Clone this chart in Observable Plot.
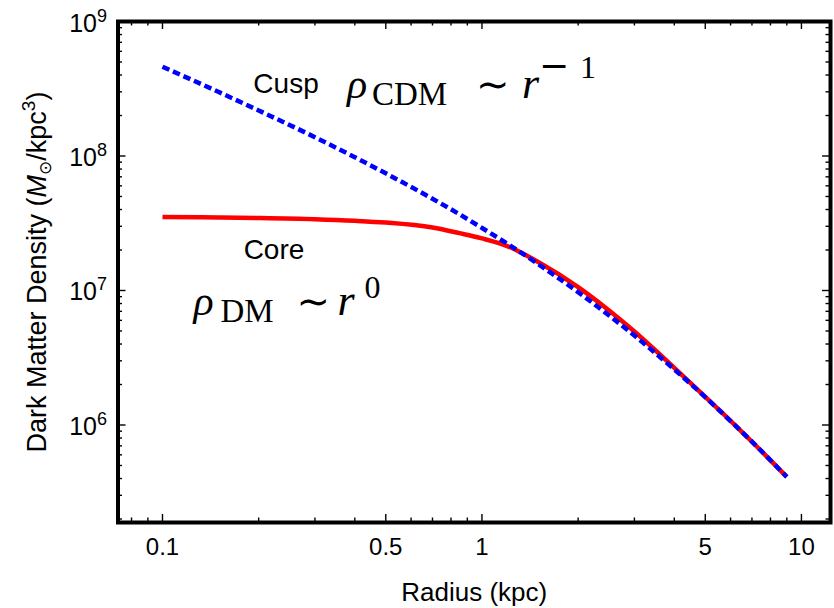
<!DOCTYPE html>
<html>
<head>
<meta charset="utf-8">
<script src="https://cdn.jsdelivr.net/npm/d3@7"></script>
<script src="https://cdn.jsdelivr.net/npm/@observablehq/plot@0.6"></script>
<style>
  html, body { margin: 0; padding: 0; background: #ffffff; }
</style>
</head>
<body>
<div id="chart"></div>
<script>
// ---------------- data ----------------
const radius      = [0.1, 0.15, 0.2, 0.3, 0.4, 0.5, 0.7, 0.85, 1, 1.2, 1.5, 2, 2.5, 3, 4, 5, 6, 7, 9];
const cuspDensity = [4.61e8, 2.99e8, 2.18e8, 1.38e8, 9.79e7, 7.43e7, 4.81e7, 3.69e7, 2.92e7, 2.23e7, 1.57e7, 9.72e6, 6.52e6, 4.62e6, 2.59e6, 1.61e6, 1.07e6, 7.51e5, 4.11e5];
const coreDensity = [3.52e7, 3.49e7, 3.46e7, 3.39e7, 3.30e7, 3.20e7, 2.94e7, 2.67e7, 2.44e7, 2.14e7, 1.63e7, 1.06e7, 7.10e6, 4.95e6, 2.66e6, 1.62e6, 1.075e6, 7.51e5, 4.11e5];

const xMajorTicks = [0.1, 0.5, 1, 5, 10];
const xTickLabels = ["0.1", "0.5", "1", "5", "10"];
const xMinorTicks = [0.08, 0.09, 0.2, 0.3, 0.4, 0.6, 0.7, 0.8, 0.9, 2, 3, 4, 6, 7, 8, 9];
const yMajorTicks = [1e6, 1e7, 1e8, 1e9];
const yTickExponents = ["6", "7", "8", "9"];
const yMinorTicks = [2e5, 3e5, 4e5, 5e5, 6e5, 7e5, 8e5, 9e5,
                     2e6, 3e6, 4e6, 5e6, 6e6, 7e6, 8e6, 9e6,
                     2e7, 3e7, 4e7, 5e7, 6e7, 7e7, 8e7, 9e7,
                     2e8, 3e8, 4e8, 5e8, 6e8, 7e8, 8e8, 9e8];

const xLabel = "Radius (kpc)";
const yLabelParts = ["Dark Matter Density (", "M", "⊙", "/kpc", "3", ")"];

// annotation texts and their anchor points (data units)
const wordLabels   = ["Cusp", "Core"];
const wordRadius   = [0.1925, 0.1795];
const wordDensity  = [2.955e8, 1.706e7];
const cuspFormulaParts = ["ρ", "CDM", "∼", "r", "−", "1"];
const coreFormulaParts = ["ρ", "DM", "∼", "r", "0"];
const formulaKeys    = ["cuspFormula", "coreFormula"];
const formulaRadius  = [0.378, 0.125];
const formulaDensity = [2.70e8, 6.58e6];

// ---------------- tables built from the arrays ----------------
const cuspRows = radius.map((r, i) => ({r, rho: cuspDensity[i]}));
const coreRows = radius.map((r, i) => ({r, rho: coreDensity[i]}));
const wordRows = wordLabels.map((t, i) => ({t, r: wordRadius[i], rho: wordDensity[i]}));
const formulaRows = formulaKeys.map((t, i) => ({t, r: formulaRadius[i], rho: formulaDensity[i]}));

const sans  = "'Liberation Sans', Arial, Helvetica, sans-serif";
const serif = "'Liberation Serif', 'Times New Roman', 'DejaVu Serif', serif";

const W = 834, H = 608, ML = 117.5, MR = 4, MT = 21, MB = 86;
const FW = W - ML - MR, FH = H - MT - MB;
const xDomain = [0.07257, 12.33], yDomain = [1.884e5, 1e9];

// tick lengths in px, turned into multiplicative steps on the log scales
const BIG = 8, SMALL = 4.5;
const xDecPx = FW / Math.log10(xDomain[1] / xDomain[0]);
const yDecPx = FH / Math.log10(yDomain[1] / yDomain[0]);
const fx = px => Math.pow(10, px / xDecPx);
const fy = px => Math.pow(10, px / yDecPx);

const tickOpts = {stroke: "black", strokeWidth: 1.4, strokeLinecap: "butt"};
const xTickRules = (ticks, len) => [
  Plot.ruleX(ticks, {...tickOpts, x: d => d, y1: yDomain[0], y2: yDomain[0] * fy(len)}),
  Plot.ruleX(ticks, {...tickOpts, x: d => d, y1: yDomain[1], y2: yDomain[1] / fy(len)})
];
const yTickRules = (ticks, len) => [
  Plot.ruleY(ticks, {...tickOpts, y: d => d, x1: xDomain[0], x2: xDomain[0] * fx(len)}),
  Plot.ruleY(ticks, {...tickOpts, y: d => d, x1: xDomain[1], x2: xDomain[1] / fx(len)})
];

const chart = Plot.plot({
  width: W, height: H,
  marginLeft: ML, marginRight: MR, marginTop: MT, marginBottom: MB,
  style: {fontFamily: sans, background: "#ffffff", color: "#000000", overflow: "visible"},
  x: {type: "log", domain: xDomain, label: null, axis: null},
  y: {type: "log", domain: yDomain, label: null, axis: null},
  marks: [
    Plot.line(coreRows, {x: "r", y: "rho", stroke: "#ff0000", strokeWidth: 4.5, strokeLinecap: "butt", curve: "monotone-x"}),
    Plot.line(cuspRows, {x: "r", y: "rho", stroke: "#0000ff", strokeWidth: 4.5, strokeDasharray: "7.5 4",
                         strokeLinecap: "butt", curve: "monotone-x"}),
    // inward ticks on all four sides
    ...xTickRules(xMajorTicks, BIG),
    ...xTickRules(xMinorTicks, SMALL),
    ...yTickRules(yMajorTicks, BIG),
    ...yTickRules(yMinorTicks, SMALL),
    Plot.frame({stroke: "black", strokeWidth: 4}),
    // tick labels
    Plot.text(xMajorTicks, {x: d => d, frameAnchor: "bottom", text: (d, i) => xTickLabels[i],
                            dy: 15, lineAnchor: "top", fontSize: 24, fill: "black"}),
    Plot.text(yMajorTicks, {y: d => d, frameAnchor: "left", text: (d, i) => "10^" + yTickExponents[i],
                            dx: -11, dy: 2, textAnchor: "end", lineAnchor: "middle", fontSize: 25, fill: "black"}),
    // axis titles
    Plot.text([xLabel], {frameAnchor: "bottom", text: d => d, dy: 78, lineAnchor: "bottom", fontSize: 26, fill: "black"}),
    Plot.text(["__ylabel__"], {frameAnchor: "left", text: d => d, rotate: -90, dx: -72.5, lineAnchor: "bottom",
                               textAnchor: "middle", fontSize: 27, fill: "black"}),
    // annotations
    Plot.text(wordRows, {x: "r", y: "rho", text: "t", textAnchor: "start", lineAnchor: "bottom", fontSize: 28, fill: "black"}),
    Plot.text(formulaRows, {x: "r", y: "rho", text: "t", textAnchor: "start", lineAnchor: "bottom", fontSize: 42,
                            fontFamily: serif, fill: "black"})
  ]
});

document.getElementById("chart").appendChild(chart);

// ---------------- rich text (sub/superscripts, italics) ----------------
const NS = "http://www.w3.org/2000/svg";
function rich(el, parts) {
  el.textContent = "";
  let shift = 0;
  for (const p of parts) {
    const ts = document.createElementNS(NS, "tspan");
    ts.textContent = p.t;
    const target = p.dy || 0;
    if (target - shift !== 0) ts.setAttribute("dy", target - shift);
    shift = target;
    if (p.x !== undefined) ts.setAttribute("x", p.x);
    if (p.size) ts.setAttribute("font-size", p.size);
    if (p.italic) ts.setAttribute("font-style", "italic");
    if (p.family) ts.setAttribute("font-family", p.family);
    el.appendChild(ts);
  }
}

const sym = "'DejaVu Sans', 'Liberation Sans', sans-serif";
chart.querySelectorAll("text").forEach(el => {
  const s = el.textContent;
  const m = /^10\^(\d+)$/.exec(s);
  if (m) {
    rich(el, [{t: "10"}, {t: m[1], size: 18, dy: -10}]);
  } else if (s === "__ylabel__") {
    const P = yLabelParts;
    rich(el, [{t: P[0]}, {t: P[1], italic: true}, {t: P[2], size: 17, dy: 5, family: sym},
              {t: P[3]}, {t: P[4], size: 19, dy: -11}, {t: P[5]}]);
  } else if (s === "cuspFormula") {
    const P = cuspFormulaParts;
    rich(el, [{t: P[0], x: 0, italic: true, size: 42},
              {t: P[1], x: 25, size: 33, dy: 7},
              {t: P[2], x: 129, size: 40, family: sym},
              {t: P[3], x: 175, italic: true, size: 44},
              {t: P[4], x: 192, size: 36, dy: -20, family: sym},
              {t: P[5], x: 233, size: 32, dy: -20}]);
  } else if (s === "coreFormula") {
    const P = coreFormulaParts;
    rich(el, [{t: P[0], x: 0, italic: true, size: 42},
              {t: P[1], x: 27, size: 33, dy: 7},
              {t: P[2], x: 103, size: 40, family: sym},
              {t: P[3], x: 144, italic: true, size: 44},
              {t: P[4], x: 171, size: 32, dy: -17}]);
  }
});
</script>
</body>
</html>
